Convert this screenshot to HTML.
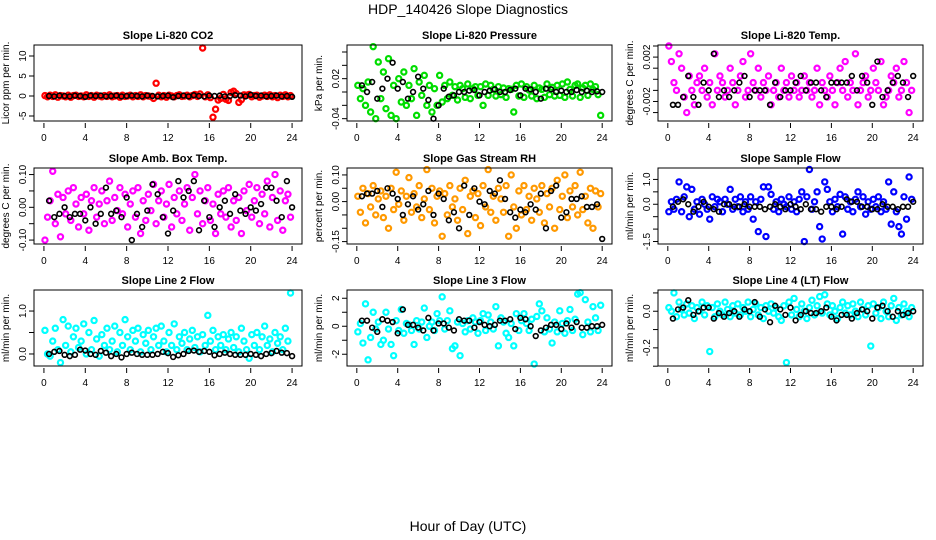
<!DOCTYPE html>
<html><head><meta charset="utf-8">
<style>
html,body{margin:0;padding:0;background:#fff;}
svg{display:block;font-family:"Liberation Sans",sans-serif;}
</style></head>
<body>
<svg id="chart" width="936" height="540" viewBox="0 0 936 540">
<rect width="936" height="540" fill="#fff"/>
<text x="468" y="14" text-anchor="middle" font-size="14">HDP_140426  Slope Diagnostics</text>
<text x="468" y="531" text-anchor="middle" font-size="14">Hour of Day (UTC)</text>
</svg>
<script>
// ---- data ----
const hourTicks = [0,4,8,12,16,20,24];
const panelTitles = ["Slope Li-820 CO2","Slope Li-820 Pressure","Slope Li-820 Temp.","Slope Amb. Box Temp.","Slope Gas Stream RH","Slope Sample Flow","Slope Line 2 Flow","Slope Line 3 Flow","Slope Line 4 (LT) Flow"];
const yTitles = ["Licor ppm per min.","kPa per min.","degrees C per min.","degrees C per min.","percent per min.","ml/min per min.","ml/min per min.","ml/min per min.","ml/min per min."];
const yTicks1=[-5,0,5,10]; const yLabels1=["-5","0","5","10"];
const yTicks2=[-0.04,-0.02,0,0.02,0.04,0.06]; const yLabels2=["-0.04","","","0.02","",""];
const yTicks3=[-0.003,-0.002,-0.001,0,0.001,0.002,0.003]; const yLabels3=["","-0.002","","","","0.002",""];
const yTicks4=[-0.1,-0.05,0,0.05,0.1]; const yLabels4=["-0.10","","0.00","","0.10"];
const yTicks5=[-0.15,-0.1,-0.05,0,0.05,0.1]; const yLabels5=["-0.15","","","0.00","","0.10"];
const yTicks6=[-1.5,-1,-0.5,0,0.5,1]; const yLabels6=["-1.5","","","0.0","","1.0"];
const yTicks7=[0,0.5,1]; const yLabels7=["0.0","","1.0"];
const yTicks8=[-2,-1,0,1,2]; const yLabels8=["-2","","0","","2"];
const yTicks9=[-0.3,-0.2,-0.1,0,0.1]; const yLabels9=["","-0.2","","0.0",""];
const yDomains=[[-6.25,12.75],[-0.0435,0.0705],[-0.00376,0.00309],[-0.112,0.120],[-0.159,0.126],[-1.6,1.46],[-0.28,1.49],[-2.84,2.59],[-0.299,0.116]];

const co2Values=[0.1,-0.2,0.2,-0.1,0.3,-0.3,0.1,0,-0.2,0.2,-0.3,0.1,0.2,-0.1,0,-0.2,0.3,-0.1,0.1,-0.3,0.2,0,-0.2,0.1,-0.1,0.3,-0.2,0,0.1,-0.3,0.2,-0.1,0,0.2,-0.2,0.1,-0.1,0.3,-0.2,0.1,0,-0.1,-0.6,3.2,0.2,-0.2,0.1,-0.3,0.2,0,-0.2,0.1,0.3,-0.1,0,0.2,-0.2,0.1,0.4,-0.1,0.5,12,-0.2,0.3,-0.4,-5.3,-3.3,-1.0,-0.6,0.4,-0.8,-1.1,0.9,1.2,0.6,-1.6,-0.9,0.3,0.2,0.4,-0.2,0.1,0.2,-0.3,0,0.2,-0.1,0.3,-0.2,0.1,-0.4,0.2,-0.1,0.3,-0.2,0.1];
const co2Hourly=[0,-0.1,0.1,0,-0.1,0.1,0,-0.2,0.1,0,0.1,-0.1,0,0.1,-0.1,0,0.1,0,-0.1,0.1,0,-0.1,0,0.1,-0.3,0,0.1,-0.1,0.2,0,-0.1,0.1,0,0.1,-0.1,0,0.2,0.1,-0.1,0.3,0,0.1,-0.1,0,0.1,-0.1,0,-0.2];
const presValues=[0.01,-0.01,0.005,-0.02,0.015,-0.03,0.068,-0.04,0.045,-0.01,0.03,-0.025,0.05,-0.035,0.01,-0.04,0.02,-0.015,0.03,-0.02,0.01,-0.01,0.035,-0.035,0.015,-0.005,0.025,-0.02,0.01,-0.03,0.005,-0.02,0.025,-0.015,0.01,-0.01,0.015,-0.005,0.008,-0.012,0.01,0.005,-0.008,0.012,-0.01,0.005,0.008,-0.005,0.008,-0.02,0.012,-0.005,0.01,0.004,-0.006,0.008,-0.004,0.006,-0.008,0.005,0.004,-0.03,0.01,-0.006,0.012,-0.008,0.008,0.003,-0.006,0.01,-0.01,0.006,0.004,-0.008,0.012,-0.004,0.007,-0.006,0.01,-0.005,0.012,-0.008,0.015,0.004,-0.006,0.01,0.012,-0.008,0.006,0.01,-0.005,0.012,0.004,0.008,-0.004,-0.035];
const presHourly=[0.01,0.0,0.015,-0.01,0.005,0.02,0.044,0.005,0.015,-0.01,0.0,0.023,0.005,-0.012,-0.04,-0.02,0.005,-0.007,-0.005,0.0,0.0,0.002,0.003,-0.005,0.0,0.002,0.004,0.0,0.0,0.003,0.005,-0.005,0.005,0.004,0.0,-0.01,0.005,0.004,0.0,0.002,0.0,0.0,0.003,0.0,0.002,0.0,0.001,0.0];
const tempValues=[0.003,0.0016,-0.0003,-0.001,0.0023,0.001,-0.0016,-0.003,0.0003,-0.001,-0.0023,-0.0003,0.0003,-0.001,0.001,-0.0016,-0.0003,-0.0023,0.0023,-0.001,0.0003,-0.0003,-0.0016,-0.001,0.001,-0.0003,-0.0023,-0.001,0.0003,0.0016,-0.0016,-0.001,0.0023,-0.0003,-0.001,0.001,-0.0016,-0.0003,-0.001,0.0003,-0.0023,-0.001,-0.0003,-0.0016,0.001,-0.001,-0.0003,-0.0016,0.0003,-0.001,-0.0003,-0.0016,-0.001,0.0003,-0.001,-0.0003,-0.0016,-0.001,0.001,-0.0023,-0.0003,-0.001,-0.0016,0.0003,-0.001,-0.0023,-0.0003,0.001,-0.001,0.0016,-0.0016,-0.0003,-0.001,0.0023,-0.0023,-0.001,-0.0003,0.0003,-0.0016,-0.001,0.001,-0.0003,-0.001,0.0016,-0.0023,-0.0016,-0.001,0.0003,-0.0003,0.001,-0.0016,-0.001,0.0016,-0.0003,-0.003,-0.001];
const tempHourly=[-0.0023,-0.0023,-0.0016,0.0003,-0.0016,-0.0023,-0.0003,-0.001,0.0023,-0.0016,-0.001,-0.0016,-0.001,-0.0003,0.0003,-0.0016,-0.001,-0.001,-0.001,-0.0023,-0.0003,-0.0016,-0.001,-0.001,-0.0003,0.0003,-0.001,-0.0003,-0.0003,-0.001,-0.0016,-0.0003,-0.0003,-0.0003,-0.0003,0.0003,-0.001,0.0003,-0.0003,-0.0023,0.0016,-0.0016,-0.001,-0.0003,0.0003,-0.0003,-0.0016,0.0003];
const ambValues=[-0.1,-0.03,0.02,0.11,-0.05,0.04,-0.09,0.03,-0.02,0.05,-0.04,0.06,0.01,-0.06,0.03,-0.02,0.04,-0.07,0.02,0.06,-0.03,0.01,0.05,-0.05,0.02,0.08,-0.04,0.03,-0.01,0.06,-0.02,0.04,-0.06,0.01,0.05,-0.03,0.06,-0.08,0.02,-0.04,0.04,-0.01,0.07,-0.05,0.02,0.05,-0.03,0.01,0.07,-0.06,0.03,-0.02,0.05,-0.04,0.01,0.06,-0.07,0.03,0.1,-0.02,0.05,-0.05,0.02,0.06,-0.04,0.01,-0.08,0.04,-0.02,0.05,-0.03,0.06,-0.06,0.02,-0.04,0.03,-0.08,0.05,-0.01,0.07,-0.03,0.02,0.06,-0.05,0.04,-0.02,0.08,-0.06,0.03,0.1,-0.04,0.05,-0.07,0.02,0.04,-0.03];
const ambHourly=[0.02,-0.03,-0.02,0.0,-0.03,-0.02,-0.02,-0.04,0.0,-0.05,-0.02,0.06,-0.02,-0.01,-0.03,0.03,-0.1,-0.02,-0.06,-0.01,0.07,0.04,-0.03,-0.08,-0.01,0.08,0.03,0.05,0.08,-0.07,0.02,-0.03,-0.06,0.0,0.02,-0.02,0.04,-0.01,-0.02,0.0,-0.01,0.01,0.06,0.06,0.02,-0.03,0.08,0.0];
const rhValues=[0.02,-0.04,0.05,-0.08,0.03,-0.02,0.06,-0.05,0.01,0.04,-0.06,0.02,-0.1,0.05,-0.03,0.11,-0.01,0.04,-0.07,0.02,0.09,-0.04,0.03,-0.02,0.06,-0.06,0.01,0.12,-0.03,0.05,-0.08,0.02,0.04,-0.13,0.03,-0.05,0.06,-0.02,0.01,-0.07,0.05,-0.03,0.08,-0.12,0.02,0.04,-0.06,0.03,-0.09,0.06,-0.02,0.12,-0.04,0.02,-0.07,0.05,0.01,-0.04,0.06,-0.13,0.1,-0.02,-0.1,0.04,-0.05,0.06,-0.03,0.02,-0.07,0.05,0.01,-0.04,0.06,-0.08,0.03,-0.02,0.05,-0.1,0.08,-0.03,0.02,0.1,-0.06,0.04,-0.02,0.06,-0.05,0.11,-0.03,0.02,-0.08,0.05,-0.1,0.04,-0.02,0.03];
const rhHourly=[0.02,0.03,0.03,0.04,-0.02,0.05,0.03,0.01,-0.05,-0.01,0.02,-0.03,-0.01,0.04,-0.05,0.03,0.01,-0.07,-0.04,-0.1,0.06,-0.05,0.05,0.0,-0.01,0.04,0.03,0.08,0.01,-0.04,-0.06,-0.03,-0.04,-0.01,-0.03,0.03,-0.1,0.04,0.06,-0.06,-0.04,0.01,0.01,0.02,-0.02,-0.02,-0.01,-0.14];
const sampleValues=[-0.3,0.1,-0.2,0.2,0.9,-0.3,0.3,0.7,-0.5,0.6,-0.2,0.1,-0.4,0.2,0,-0.2,-0.6,0.3,-0.1,0.2,0.1,-0.3,0.2,0,0.6,-0.2,0.2,-0.1,0.3,-0.3,0.1,-0.2,0.3,-0.6,0.1,-1.1,0.2,0.7,-1.3,0.7,0.4,-0.2,0.1,-0.3,0.2,0,-0.1,0.3,-0.2,0.1,-0.3,0.2,0.5,-1.5,0.3,1.4,-0.2,0.1,0.5,-0.9,-1.4,0.9,0.6,0.1,-0.3,0.2,-0.1,0.4,-1.2,0.3,-0.2,0.1,-0.3,0.2,0.5,-0.1,0.3,-0.4,0.1,-0.2,0.2,-0.1,0.3,-0.3,0.1,-0.2,0.9,-0.8,0.5,-0.3,-0.9,-1.2,0.3,-0.6,1.1,0.2];
const sampleHourly=[-0.1,0.1,0.2,0.0,-0.3,-0.1,0.1,-0.1,-0.2,-0.3,0.0,0.0,-0.1,-0.1,0.0,-0.1,-0.1,-0.1,-0.2,-0.1,0.0,-0.1,-0.2,0.0,-0.1,-0.2,0.0,-0.2,-0.2,-0.3,-0.1,-0.1,-0.2,-0.1,0.2,0.1,0.1,-0.1,-0.1,-0.2,-0.2,0.0,-0.1,-0.1,-0.2,-0.1,-0.1,0.1];
const line2Values=[0.55,0.0,-0.05,0.3,0.6,0.1,-0.2,0.8,0.2,0.65,0.05,0.4,0.6,0.15,0.3,0.7,0.0,0.5,0.1,0.78,0.35,-0.05,0.45,0.2,0.6,0.1,0.3,0.65,0.05,0.5,0.2,0.8,0.4,0.1,0.55,0.3,0.6,0.05,0.45,0.25,0.55,0.1,0.4,0.6,0.2,0.65,0.3,0.05,0.5,0.2,0.7,0.1,0.4,0.25,0.5,0.1,0.35,0.55,0.15,0.4,0.05,0.45,0.2,0.9,0.3,0.55,0.1,0.4,0.2,0.45,0.1,0.35,0.5,0.15,0.4,0.05,0.6,0.3,0.1,-0.1,0.45,0.2,0.5,0.1,0.4,0.65,0.2,0.35,0.05,0.5,0.25,0.4,0.1,0.6,0.3,1.42];
const line2Hourly=[0.0,0.05,0.07,-0.02,-0.05,-0.02,0.1,0.08,0.0,-0.02,0.07,0.03,-0.05,0.0,-0.08,0.0,0.03,0.0,-0.02,-0.02,-0.02,0.0,0.05,0.02,-0.07,-0.03,0.0,0.07,0.08,0.05,0.07,0.05,-0.03,0.0,0.03,0.0,-0.02,-0.02,-0.02,0.0,-0.02,-0.05,0.0,0.02,0.07,0.03,0.02,-0.05];
const line3Values=[-0.4,0.2,-1.2,1.6,-2.4,-0.8,1.0,-0.2,0.3,-1.3,-1.0,1.0,-0.2,-1.3,-2.1,0.4,-0.3,1.2,-0.5,0.2,0.1,-0.3,-1.3,0.4,-0.2,0.3,1.3,-0.8,0.0,0.3,-0.3,0.9,0.4,2.1,-0.2,0.4,1.1,-1.6,-1.4,0.3,-2.1,0.2,-0.4,0.4,-0.2,0.6,0.3,-0.5,0.4,0.9,-0.3,0.8,0.3,-0.2,1.4,-1.4,0.6,0.3,-0.5,-0.8,0.2,-1.4,0.9,-0.3,0.4,0.9,0.2,-0.3,0.5,-2.7,0.7,1.6,1.1,-0.4,0.6,-0.2,-1.2,0.3,-0.4,1.1,0.2,-0.5,0.4,1.2,-0.3,0.5,2.3,2.4,-0.6,1.9,0.3,-0.4,1.4,0.6,-0.3,1.5];
const line3Hourly=[0.4,0.4,-0.1,-0.4,0.5,0.4,0.3,-0.5,1.2,0.1,0.1,-0.1,-0.3,0.6,-0.3,0.2,0.2,-0.1,-0.3,0.5,0.4,0.4,-0.1,0.3,0.1,0.0,0.1,0.4,0.4,0.5,-0.2,0.6,0.5,0.0,-0.7,-0.3,-0.1,0.1,0.1,-0.2,0.2,-0.1,0.3,-0.1,-0.1,0.0,0.0,0.1];
const line4Values=[0.02,0.0,0.1,-0.03,0.05,0.01,-0.02,0.04,-0.01,0.03,-0.04,0.02,0.0,0.05,-0.02,0.03,-0.22,0.02,-0.03,0.04,0.0,-0.02,0.05,0.01,-0.03,0.03,-0.01,0.04,-0.02,0.02,0.0,0.05,-0.03,0.01,0.04,-0.02,0.02,-0.04,0.03,0.0,0.04,-0.01,0.02,-0.03,-0.05,0.03,-0.28,0.05,-0.02,0.07,0.01,-0.03,0.04,0.0,-0.04,0.02,0.06,-0.02,0.03,0.08,-0.01,0.09,0.04,-0.02,0.03,0.0,-0.04,0.02,0.05,-0.01,0.03,-0.02,0.04,0.0,-0.03,0.05,0.01,-0.02,0.03,-0.19,0.04,-0.01,0.02,-0.04,0.05,0.0,-0.03,0.03,0.07,-0.05,0.02,-0.02,0.04,0.0,-0.03,0.02];
const line4Hourly=[-0.04,0.01,0.02,0.06,-0.02,0.0,0.02,0.02,-0.04,-0.01,-0.03,-0.01,0.0,-0.03,0.01,0.0,0.05,-0.03,0.01,-0.06,0.03,0.01,-0.02,0.02,-0.05,-0.02,0.0,-0.01,-0.01,0.0,0.02,-0.03,-0.05,-0.02,-0.02,-0.04,-0.01,0.01,0.0,-0.04,0.02,0.03,0.0,-0.03,0.0,-0.02,-0.01,0.0];

// ---- layout ----
const NS="http://www.w3.org/2000/svg";
const svg=document.getElementById('chart');
const cols=[[34,302],[347,612],[658,923]];
const rows=[[45,121],[168,244],[290,366]];
const colors=["#ff0000","#00dd00","#ff00ff","#ff00ff","#ff9900","#0000ff","#00ffff","#00ffff","#00ffff"];
const series=[co2Values,presValues,tempValues,ambValues,rhValues,sampleValues,line2Values,line3Values,line4Values];
const hourly=[co2Hourly,presHourly,tempHourly,ambHourly,rhHourly,sampleHourly,line2Hourly,line3Hourly,line4Hourly];
const ticks=[yTicks1,yTicks2,yTicks3,yTicks4,yTicks5,yTicks6,yTicks7,yTicks8,yTicks9];
const tlabels=[yLabels1,yLabels2,yLabels3,yLabels4,yLabels5,yLabels6,yLabels7,yLabels8,yLabels9];
function mk(tag,attrs,parent){const e=document.createElementNS(NS,tag);for(const k in attrs)e.setAttribute(k,attrs[k]);(parent||svg).appendChild(e);return e;}

for(let p=0;p<9;p++){
  const [L,R]=cols[p%3],[T,B]=rows[Math.floor(p/3)];
  const w=R-L, x0=L+w*0.04/1.08, x1=R-w*0.04/1.08;
  const xs=h=>x0+(x1-x0)*h/24;
  const [ymin,ymax]=yDomains[p];
  const ys=v=>B-(v-ymin)/(ymax-ymin)*(B-T);
  const g=mk('g',{});
  
  
  const title=mk('text',{x:(L+R)/2,y:T-6,'text-anchor':'middle','font-size':11,'font-weight':'bold'},g);
  title.textContent=panelTitles[p];
  
  
  const pts=mk('g',{fill:'none',stroke:colors[p],'stroke-width':2.2},g);
  
  
  const vals=series[p];
  vals.forEach((v,i)=>{
    const c=mk('circle',{cx:xs(i*24/vals.length+0.1),cy:ys(v),r:2.6},pts);
    
    
  });
  const blk=mk('g',{fill:'none',stroke:'#000','stroke-width':1.6},g);
  
  
  const hv=hourly[p];
  hv.forEach((v,i)=>{
    const c=mk('circle',{cx:xs(i*24/hv.length+0.5),cy:ys(v),r:2.4},blk);
    
    
  });
  const box=mk('rect',{x:L,y:T,width:w,height:B-T,fill:'none',stroke:'#000','stroke-width':1},g);
  
  
  const xa=mk('g',{},g);
  
  
  hourTicks.forEach(h=>{
    mk('line',{x1:xs(h),x2:xs(h),y1:B+2,y2:B+7,stroke:'#000'},xa);
    const t=mk('text',{x:xs(h),y:B+20,'text-anchor':'middle','font-size':10},xa);
    t.textContent=h;
  });
  const ya=mk('g',{},g);
  
  
  ticks[p].forEach((v,i)=>{
    const y=ys(v);
    mk('line',{x1:L-5,x2:L,y1:y,y2:y,stroke:'#000'},ya);
    if(tlabels[p][i]){
      const t=mk('text',{x:0,y:0,'text-anchor':'middle','font-size':10,transform:`translate(${L-8},${y}) rotate(-90)`},ya);
      t.textContent=tlabels[p][i];
    }
  });
  const yt=mk('text',{x:0,y:0,'text-anchor':'middle','font-size':10,transform:`translate(${L-25},${(T+B)/2}) rotate(-90)`},g);
  yt.textContent=yTitles[p];
  
  
}
</script>
</body></html>
